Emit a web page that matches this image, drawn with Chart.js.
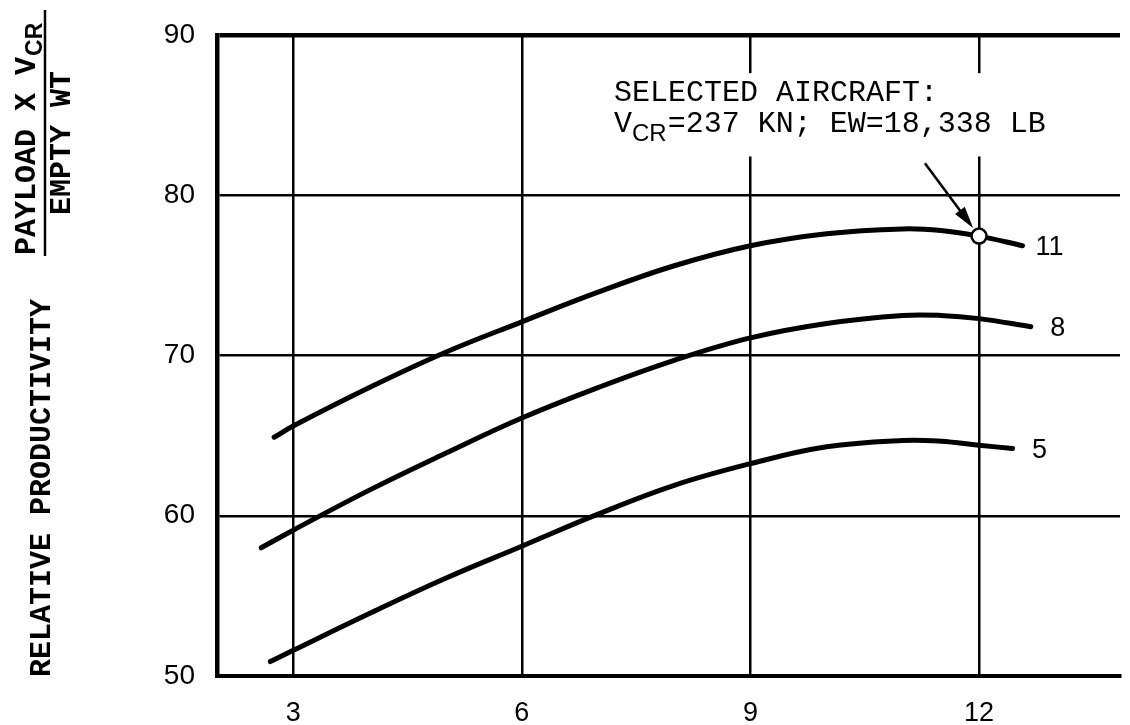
<!DOCTYPE html>
<html><head><meta charset="utf-8">
<script src="https://cdn.jsdelivr.net/npm/chart.js@4.4.1/dist/chart.umd.min.js"></script>
<style>html,body{margin:0;padding:0;background:#fff;} #wrap{width:1130px;height:725px;position:relative;}</style>
</head><body><div id="wrap"><canvas id="c" width="1130" height="725"></canvas></div>
<script>
// ---- data ----
const xTicks = [3, 6, 9, 12];
const yTicks = [50, 60, 70, 80, 90];
const seriesNames = ['11', '8', '5'];
const x11 = [2.75, 3, 4, 5, 6, 7, 8, 9, 10, 11, 11.5, 12, 12.57];
const y11 = [64.9, 65.6, 68.0, 70.2, 72.1, 73.95, 75.6, 76.85, 77.6, 77.9, 77.8, 77.45, 76.85];
const x8 = [2.58, 3, 4, 5, 6, 7, 8, 9, 10, 11, 11.5, 12, 12.68];
const y8 = [58.0, 59.1, 61.6, 63.9, 66.1, 68.0, 69.7, 71.1, 72.0, 72.5, 72.5, 72.3, 71.8];
const x5 = [2.70, 3, 4, 5, 6, 7, 8, 9, 10, 11, 11.5, 12, 12.44];
const y5 = [50.9, 51.6, 53.9, 56.1, 58.1, 60.1, 61.9, 63.25, 64.3, 64.7, 64.65, 64.4, 64.2];
const selectedX = [12];
const selectedY = [77.45];
const noteLine1 = 'SELECTED AIRCRAFT:';
const noteLine2 = ['V', 'CR', '=237 KN; EW=18,338 LB'];
const yTitleNum = ['PAYLOAD X V', 'CR'];
const yTitleDen = 'EMPTY WT';
const yTitle2 = 'RELATIVE PRODUCTIVITY';

const toPts = (xs, ys) => xs.map((x, i) => ({x: x, y: ys[i]}));

const curveStyle = {
  borderColor: '#000', borderWidth: 5, pointRadius: 0, fill: false,
  tension: 0.4, borderCapStyle: 'round', borderJoinStyle: 'round'
};

const annotPlugin = {
  id: 'annot',
  beforeDatasetsDraw(chart) {
    const ctx = chart.ctx, xs = chart.scales.x, ys = chart.scales.y;
    const l = xs.getPixelForValue(7.08), r = xs.getPixelForValue(12.82);
    const t = ys.getPixelForValue(87.62), b = ys.getPixelForValue(82.42);
    ctx.save(); ctx.fillStyle = '#fff'; ctx.fillRect(l, t, r - l, b - t); ctx.restore();
  },
  afterDatasetsDraw(chart) {
    const ctx = chart.ctx, xs = chart.scales.x, ys = chart.scales.y;
    ctx.save();
    ctx.fillStyle = '#000';
    const tx = xs.getPixelForValue(7.21);
    ctx.font = '30px "Liberation Mono"';
    ctx.textBaseline = 'alphabetic'; ctx.textAlign = 'left';
    ctx.fillText(noteLine1, tx, ys.getPixelForValue(85.86));
    const b2 = ys.getPixelForValue(83.93);
    ctx.fillText(noteLine2[0], tx, b2);
    let cx = tx + ctx.measureText(noteLine2[0]).width;
    ctx.font = '24px "Liberation Sans"';
    ctx.fillText(noteLine2[1], cx, b2 + 9);
    cx += ctx.measureText(noteLine2[1]).width + 1;
    ctx.font = '30px "Liberation Mono"';
    ctx.fillText(noteLine2[2], cx, b2);
    // arrow
    const sx = xs.getPixelForValue(11.29), sy = ys.getPixelForValue(82.0);
    const px = xs.getPixelForValue(selectedX[0]), py = ys.getPixelForValue(selectedY[0]);
    const dx = px - sx, dy = py - sy, len = Math.hypot(dx, dy);
    const ux = dx / len, uy = dy / len;
    const tipx = px - ux * 10, tipy = py - uy * 10;
    const hl = 22, hw = 6;
    const bx = tipx - ux * hl, by = tipy - uy * hl;
    ctx.strokeStyle = '#000'; ctx.lineWidth = 2.5;
    ctx.beginPath(); ctx.moveTo(sx, sy); ctx.lineTo(bx + ux * 2, by + uy * 2); ctx.stroke();
    ctx.beginPath();
    ctx.moveTo(tipx, tipy);
    ctx.lineTo(bx - uy * hw, by + ux * hw);
    ctx.lineTo(bx + uy * hw, by - ux * hw);
    ctx.closePath(); ctx.fill();
    // curve labels
    ctx.font = '27px "Liberation Sans"';
    ctx.textAlign = 'center'; ctx.textBaseline = 'middle';
    [0, 1, 2].forEach(i => {
      const meta = chart.getDatasetMeta(i);
      const last = meta.data[meta.data.length - 1];
      ctx.fillText(seriesNames[i], last.x + 27, last.y + 2);
    });
    ctx.restore();
  },
  afterDraw(chart) {
    const ctx = chart.ctx;
    ctx.save();
    ctx.fillStyle = '#000'; ctx.strokeStyle = '#000';
    ctx.save();
    ctx.translate(35, 255); ctx.rotate(-Math.PI / 2);
    ctx.font = 'bold 30px "Liberation Mono"'; ctx.textAlign = 'left'; ctx.textBaseline = 'alphabetic';
    ctx.fillText(yTitleNum[0], 0, 0);
    const w = ctx.measureText(yTitleNum[0]).width;
    ctx.font = 'bold 23px "Liberation Sans"';
    ctx.fillText(yTitleNum[1], w + 1, 7);
    ctx.restore();
    ctx.lineWidth = 2.5;
    ctx.beginPath(); ctx.moveTo(45, 10); ctx.lineTo(45, 256); ctx.stroke();
    ctx.save();
    ctx.translate(70, 143); ctx.rotate(-Math.PI / 2);
    ctx.font = 'bold 30px "Liberation Mono"'; ctx.textAlign = 'center'; ctx.textBaseline = 'alphabetic';
    ctx.fillText(yTitleDen, 0, 0);
    ctx.restore();
    ctx.save();
    ctx.translate(50, 488); ctx.rotate(-Math.PI / 2);
    ctx.font = 'bold 30px "Liberation Mono"'; ctx.textAlign = 'center'; ctx.textBaseline = 'alphabetic';
    ctx.fillText(yTitle2, 0, 0);
    ctx.restore();
    ctx.restore();
  }
};

new Chart(document.getElementById('c'), {
  type: 'line',
  data: {
    datasets: [
      Object.assign({label: seriesNames[0], data: toPts(x11, y11)}, curveStyle),
      Object.assign({label: seriesNames[1], data: toPts(x8, y8)}, curveStyle),
      Object.assign({label: seriesNames[2], data: toPts(x5, y5)}, curveStyle),
      {
        type: 'scatter', label: 'selected', data: toPts(selectedX, selectedY), order: -1,
        pointRadius: 7.5, pointBackgroundColor: '#fff', pointBorderColor: '#000', pointBorderWidth: 2.5,
        showLine: false
      }
    ]
  },
  options: {
    responsive: false, animation: false,
    layout: {padding: {top: 35, left: 0, right: 0, bottom: 0}},
    plugins: {legend: {display: false}, tooltip: {enabled: false}},
    scales: {
      x: {
        type: 'linear', min: 2, max: 13.85,
        afterBuildTicks: s => { s.ticks = xTicks.map(v => ({value: v})); },
        afterFit: s => { s.height = 49; s.paddingLeft = 0; s.paddingRight = 0; },
        grid: {color: '#000', lineWidth: 2.5, drawTicks: false},
        border: {display: true, color: '#000', width: 4},
        ticks: {color: '#000', padding: 21, font: {family: 'Liberation Sans', size: 27}, maxRotation: 0}
      },
      y: {
        type: 'linear', min: 50, max: 90,
        afterBuildTicks: s => { s.ticks = yTicks.map(v => ({value: v})); },
        afterFit: s => { s.width = 217; s.paddingTop = 0; s.paddingBottom = 0; },
        grid: {color: '#000', lineWidth: c => (c.tick && c.tick.value === 90 ? 4.5 : 2.5), drawTicks: false},
        border: {display: true, color: '#000', width: 4.5},
        ticks: {color: '#000', padding: 22, font: {family: 'Liberation Sans', size: 28}}
      }
    }
  },
  plugins: [annotPlugin]
});
</script>
</body></html>
